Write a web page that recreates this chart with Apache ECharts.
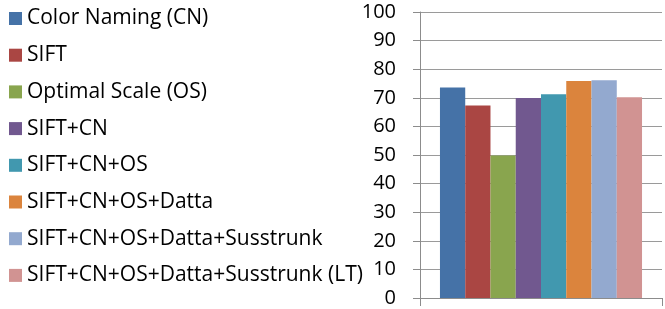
<!DOCTYPE html>
<html>
<head>
<meta charset="utf-8">
<script src="https://cdn.jsdelivr.net/npm/echarts@6/dist/echarts.min.js"></script>
<style>html,body{margin:0;padding:0;background:#fff;}#c{width:665px;height:309px;}</style>
</head>
<body>
<div id="c"></div>
<script>
var categories = [''];
var seriesNames = ['Color Naming (CN)', 'SIFT', 'Optimal Scale (OS)', 'SIFT+CN', 'SIFT+CN+OS', 'SIFT+CN+OS+Datta', 'SIFT+CN+OS+Datta+Susstrunk', 'SIFT+CN+OS+Datta+Susstrunk (LT)'];
var seriesValues = [73.6, 67.3, 49.8, 69.9, 71.2, 75.9, 76.1, 70.2];
var yTicks = [0, 10, 20, 30, 40, 50, 60, 70, 80, 90, 100];
var colors = ['#4572A7', '#AA4643', '#89A54E', '#71588F', '#4198AF', '#DB843D', '#93A9CF', '#D19392'];

var chart = echarts.init(document.getElementById('c'), null, {renderer: 'canvas'});
var series = seriesNames.map(function (n, i) {
  return {
    name: n, type: 'bar', data: [seriesValues[i]],
    barGap: '0%', barCategoryGap: '16.5%',
    itemStyle: {color: colors[i]}
  };
});
chart.setOption({
  animation: false,
  color: colors,
  legend: {
    orient: 'vertical', left: 4, top: 3,
    itemWidth: 13, itemHeight: 13, itemGap: 15.7,
    icon: 'rect',
    textStyle: {fontFamily: 'Open Sans', fontSize: 21, color: '#000', lineHeight: 20},
    data: seriesNames
  },
  grid: {left: 420, right: 3, top: 12, bottom: 11, containLabel: false},
  xAxis: {
    type: 'category', data: categories,
    axisLine: {show: true, lineStyle: {color: '#8c8c8c', width: 1}},
    axisTick: {show: true, length: 8, lineStyle: {color: '#8c8c8c'}},
    axisLabel: {show: false}
  },
  yAxis: {
    type: 'value', min: yTicks[0], max: yTicks[yTicks.length - 1], interval: 10,
    axisLine: {show: true, lineStyle: {color: '#8c8c8c', width: 1}},
    axisTick: {show: true, length: 7, lineStyle: {color: '#8c8c8c'}},
    splitLine: {show: true, lineStyle: {color: '#9a9a9a', width: 1}},
    axisLabel: {fontFamily: 'Open Sans', fontSize: 20, color: '#000', margin: 24}
  },
  series: series
});
</script>
</body>
</html>
